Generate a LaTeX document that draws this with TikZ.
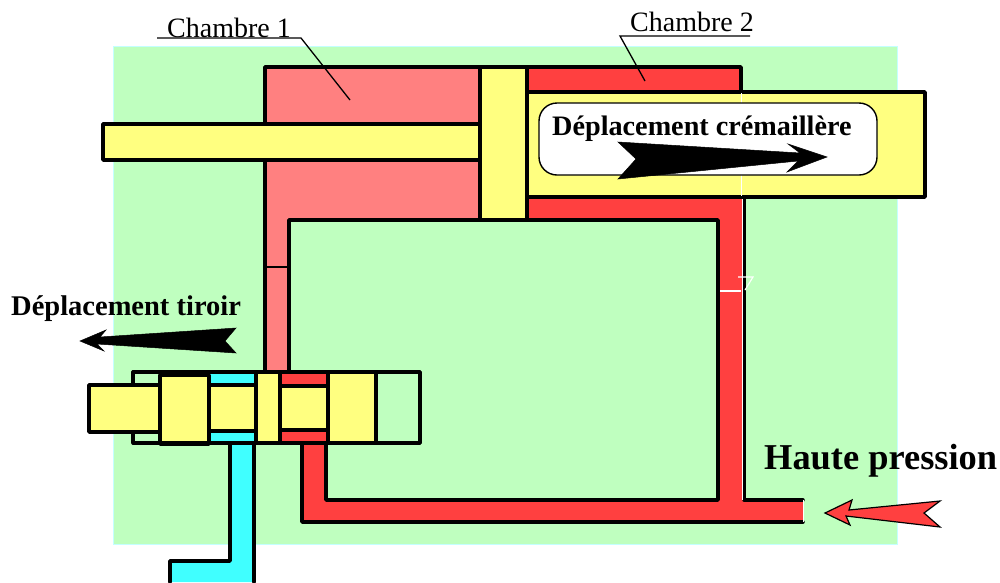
\documentclass[tikz,border=0pt]{standalone}
\usepackage{fontspec}
\setmainfont{Liberation Serif}
\definecolor{bggreen}{HTML}{BFFFBF}
\definecolor{bgedge}{HTML}{C4FFFF}
\definecolor{paleRed}{HTML}{FF8080}
\definecolor{hotRed}{HTML}{FF4040}
\definecolor{partYellow}{HTML}{FFFF80}
\definecolor{aqua}{HTML}{40FFFF}
\tikzset{
  x=1pt,y=-1pt,
  part/.style={draw=black,line width=3.5pt,line join=round,line cap=round},
  thinline/.style={draw=black,line width=1.3pt},
  lbl/.style={inner sep=0pt,anchor=base west,text=black},
  whitemark/.style={draw=white,line width=1.1pt},
  blackarrow/.style={fill=black,draw=black,line width=0.5pt,line join=miter},
}
\begin{document}
\begin{tikzpicture}
\useasboundingbox (0,0) rectangle (1000,582);
\fill[bggreen,draw=bgedge,line width=1pt] (113,46) rectangle (897,544);
% chamber 1
\path[part,fill=paleRed] (265,67)--(480,67)--(480,220)--(289,220)--(289,372)--(265,372)--cycle;
\draw[thinline] (265,267)--(289,267);
% rod
\path[part,fill=partYellow] (103,124) rectangle (480,160);
% chamber 2 and supply
\path[part,fill=hotRed] (527,67) rectangle (741,92);
\fill[hotRed] (527,197)--(742,197)--(742,500)--(803,500)--(803,522)--(302,522)--(302,443)--(326,443)--(326,500)--(718,500)--(718,220)--(527,220)--cycle;
\draw[part] (527,197)--(741,197);
\draw[part] (527,220)--(718,220)--(718,500)--(326,500)--(326,443);
\draw[part] (302,443)--(302,522)--(803,522);
\draw[part] (744,500)--(803,500);
\draw[draw=black,line width=3.4pt] (744.6,197)--(744.6,500);
\draw[whitemark] (742.2,197)--(742.2,500);
\draw[whitemark] (720,291)--(741,291);
\draw[whitemark] (738,277)--(753,277)--(745,290);
\draw[draw=white,line width=1.2pt] (803.5,500)--(803.5,522);
% rack
\path[part,fill=partYellow] (527,92)--(925,92)--(925,197)--(527,197)--cycle;
\draw[whitemark] (741.5,93)--(741.5,196);
% piston
\path[part,fill=partYellow] (480,67) rectangle (527,220);
% window
\path[fill=white,draw=black,line width=1.4pt,rounded corners=18pt] (539,103) rectangle (877,175);
\node[lbl,font=\bfseries\fontsize{28.2}{28}\selectfont] (cremaillere) at (552,135) {Déplacement crémaillère};
\path[blackarrow] (618,142)--(800,153)--(788,144)--(827,157)--(787,172)--(798,161)--(618,179)--(636,159)--cycle;
% valve
\path[part,fill=none] (133,372) rectangle (420,443);
\path[fill=aqua] (209,374) rectangle (256,443);
\path[fill=hotRed] (280,374) rectangle (328,443);
\path[fill=aqua] (230,443)--(254,443)--(254,582)--(170,582)--(170,561)--(230,561)--cycle;
\draw[part] (230,443)--(230,561)--(170,561)--(170,582);
\draw[part] (254,443)--(254,582);
\path[part,fill=partYellow] (89,385) rectangle (160,432);
\path[part,fill=partYellow] (209,385) rectangle (256,431);
\path[part,fill=partYellow] (280,386) rectangle (328,430);
\path[part,fill=partYellow] (160,375) rectangle (209,444);
\path[part,fill=partYellow] (256,372) rectangle (280,443);
\path[part,fill=partYellow] (328,372) rectangle (376,443);
\draw[part] (133,372)--(420,372)--(420,443)--(133,443);
% labels
\node[lbl,font=\fontsize{28}{28}\selectfont] (ch1) at (167,37) {Chambre 1};
\node[lbl,font=\fontsize{28}{28}\selectfont] (ch2) at (630,31) {Chambre 2};
\draw[thinline] (157,38)--(301,38)--(350,100);
\draw[thinline] (750,36)--(620,36)--(645,81);
\node[lbl,font=\bfseries\fontsize{28.5}{28}\selectfont] (tiroir) at (11,315) {Déplacement tiroir};
\path[blackarrow] (236,328)--(225,341)--(236,353)--(97,344)--(104,351)--(80,341)--(106,330)--(100,337)--cycle;
\node[lbl,font=\bfseries\fontsize{36.4}{36}\selectfont] (haute) at (764,469) {Haute pression};
\path[fill=hotRed,draw=black,line width=1.2pt,line join=miter] (825,513)--(852,500)--(849,510)--(940,501)--(924,513)--(940,527)--(846,516)--(850,525)--cycle;
\end{tikzpicture}
\end{document}
